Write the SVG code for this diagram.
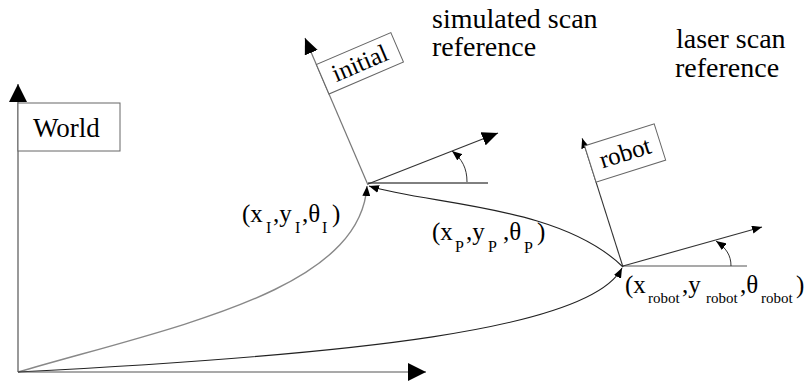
<svg xmlns="http://www.w3.org/2000/svg" width="804" height="383" viewBox="0 0 804 383">
<style>
text{font-family:Liberation Serif,Times New Roman,Times,serif;fill:#000}
.big{font-size:28px}
.lbl{font-size:25px}
.sub{font-size:16px}
.rsub{font-size:15px}
.box{fill:#fff;stroke:#666;stroke-width:1}
.ax{fill:none;stroke:#555;stroke-width:1.2}
.dk{fill:none;stroke:#222;stroke-width:1.1}
.gr{fill:none;stroke:#888;stroke-width:1.4}
</style>
<defs>
<marker id="aBig" markerUnits="userSpaceOnUse" viewBox="0 0 18 18" refX="18" refY="9" markerWidth="18" markerHeight="18" orient="auto"><path d="M0,0 L18,9 L0,18 z" fill="#000"/></marker>
<marker id="aMid" markerUnits="userSpaceOnUse" viewBox="0 0 16 14" refX="16" refY="7" markerWidth="16" markerHeight="14" orient="auto"><path d="M0,0 L16,7 L0,14 z" fill="#000"/></marker>
<marker id="aSm" markerUnits="userSpaceOnUse" viewBox="0 0 10 8" refX="10" refY="4" markerWidth="10" markerHeight="8" orient="auto"><path d="M0,0 L10,4 L0,8 z" fill="#000"/></marker>
</defs>

<g id="connectors">
<path class="gr" d="M18,372 C180,325 360,290 367,186" marker-end="url(#aSm)"/>
<path class="dk" d="M18,372 C350,355 590,330 622,268" marker-end="url(#aSm)"/>
<path class="dk" d="M623,267 C560,205 430,205 369,186" marker-end="url(#aSm)"/>
</g>

<g id="world">
<line class="ax" x1="18" y1="372" x2="18" y2="84" marker-end="url(#aBig)"/>
<line class="ax" x1="18" y1="372" x2="426" y2="372" marker-end="url(#aBig)"/>
<rect class="box" x="18" y="103" width="102" height="48"/>
<text x="33" y="137" font-size="27">World</text>
</g>

<g id="initial">
<line x1="368" y1="183" x2="488" y2="183" stroke="#000" stroke-width="1"/>
<line x1="368" y1="184" x2="498" y2="133" stroke="#333" stroke-width="1.2" marker-end="url(#aMid)"/>
<path d="M467,182 C467,168 462,159 452,151" fill="none" stroke="#333" stroke-width="1" marker-end="url(#aSm)"/>
<g transform="translate(368,185) rotate(-23.2)">
<line x1="0" y1="0" x2="0" y2="-160" stroke="#777" stroke-width="1.2" marker-end="url(#aMid)"/>
<rect class="box" x="0" y="-131" width="81" height="32"/>
<text x="40.5" y="-107" font-size="25" text-anchor="middle">initial</text>
</g>
</g>

<g id="robot">
<line x1="623" y1="266" x2="747" y2="266" stroke="#555" stroke-width="1.2"/>
<line x1="623" y1="266" x2="762" y2="227" stroke="#333" stroke-width="1.1" marker-end="url(#aSm)"/>
<path d="M731,266 C731,255 726,248 716,241" fill="none" stroke="#333" stroke-width="1" marker-end="url(#aSm)"/>
<g transform="translate(623,267) rotate(-17.6)">
<line x1="0" y1="0" x2="0" y2="-135" stroke="#333" stroke-width="1.1" marker-end="url(#aSm)"/>
<rect class="box" x="0" y="-127" width="73" height="38"/>
<text x="36.5" y="-100" font-size="25" text-anchor="middle">robot</text>
</g>
</g>

<g id="labels">
<text class="big" x="432" y="28">simulated scan</text>
<text class="big" x="432" y="56">reference</text>
<text class="big" x="676" y="48">laser scan</text>
<text class="big" x="675" y="77">reference</text>

<text class="lbl"><tspan x="242" y="222">(x</tspan><tspan class="sub" x="266" y="233">I</tspan><tspan x="273" y="222">,y</tspan><tspan class="sub" x="295" y="233">I</tspan><tspan x="302" y="222">,θ</tspan><tspan class="sub" x="322" y="233">I</tspan><tspan x="332" y="222">)</tspan></text>

<text class="lbl"><tspan x="432" y="240">(x</tspan><tspan class="sub" x="455" y="252">P</tspan><tspan x="466" y="240">,y</tspan><tspan class="sub" x="488" y="252">P</tspan><tspan x="503" y="240">,θ</tspan><tspan class="sub" x="524" y="253">P</tspan><tspan x="537" y="240">)</tspan></text>

<text class="lbl" font-size="24"><tspan x="625" y="293">(x</tspan><tspan class="rsub" x="648" y="303">robot</tspan><tspan x="682" y="293">,y</tspan><tspan class="rsub" x="706" y="303">robot</tspan><tspan x="740" y="293">,θ</tspan><tspan class="rsub" x="761" y="303">robot</tspan><tspan x="796" y="293">)</tspan></text>
</g>
</svg>
